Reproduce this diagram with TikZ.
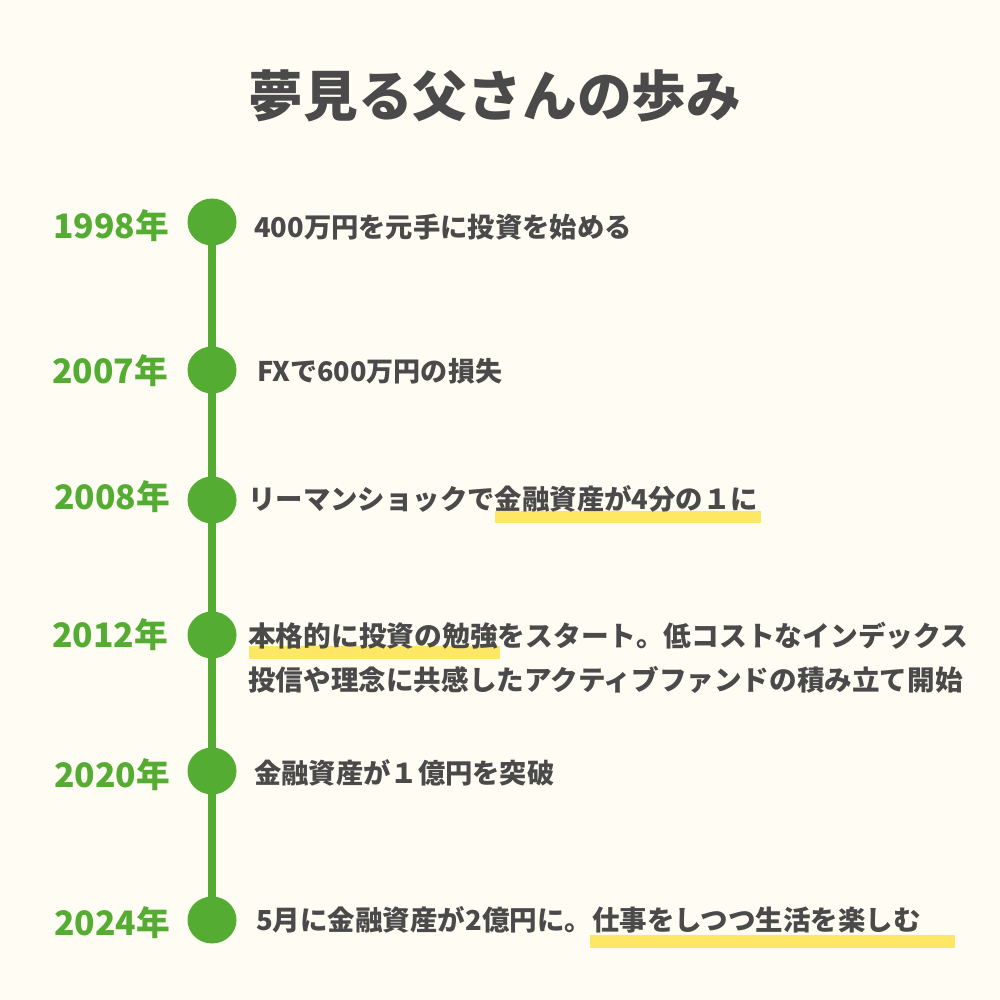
\documentclass[tikz,border=0pt]{standalone}
\usepackage{fontspec}
\setmainfont{Noto Sans CJK JP}
\usetikzlibrary{shapes.geometric}
\definecolor{paper}{HTML}{FFFDF3}
\definecolor{leaf}{HTML}{55AC33}
\definecolor{marker}{HTML}{FFE766}
\definecolor{ink}{HTML}{4A4A4A}
\tikzset{
  dot/.style={ellipse,fill=leaf,minimum width=49pt,minimum height=47pt,inner sep=0pt,outer sep=0pt},
  year/.style={anchor=west,inner sep=0pt,text=leaf,font=\fontsize{33.7}{40}\selectfont\bfseries},
  event/.style={anchor=west,inner sep=0pt,text=ink,font=\fontsize{#1}{34}\selectfont\bfseries},
  event/.default=27.3,
  hilite/.style={fill=marker}
}
\begin{document}
\begin{tikzpicture}[x=1pt,y=-1pt]
        \useasboundingbox (0,0) rectangle (1000,1000);
        \fill[paper] (0,0) rectangle (1000,1000);
        \fill[hilite] (495,511) rectangle (761,523);
        \fill[hilite] (248.5,646) rectangle (500,658.5);
        \fill[hilite] (590,935) rectangle (954.5,948);
        \node[dot](d1) at (212,222){};
        \node[dot](d2) at (212,370){};
        \node[dot](d3) at (212,500){};
        \node[dot](d4) at (212,635){};
        \node[dot](d5) at (212,771){};
        \node[dot](d6) at (212,920){};
        \draw[leaf,line width=8pt](d1.center)--(d2.center);
        \draw[leaf,line width=8pt](d2.center)--(d3.center);
        \draw[leaf,line width=8pt](d3.center)--(d4.center);
        \draw[leaf,line width=8pt](d4.center)--(d5.center);
        \draw[leaf,line width=8pt](d5.center)--(d6.center);
        \node[anchor=center,inner sep=0pt,text=ink,font=\fontsize{54.7}{60}\selectfont\bfseries](title) at (495,96){夢見る父さんの歩み};
        \node[year](y1) at (53,226){1998年};
        \node[year](y2) at (52,371){2007年};
        \node[year](y3) at (54,497){2008年};
        \node[year](y4) at (52,635){2012年};
        \node[year](y5) at (54,775){2020年};
        \node[year](y6) at (54,923){2024年};
        \node[event](e1) at (254,227){400万円を元手に投資を始める};
        \node[event=27.05](e2) at (257,371){FXで600万円の損失};
        \node[event=27.4](e3) at (248,499){リーマンショックで金融資産が4分の１に};
        \node[event=27.75](e4a) at (248,636){本格的に投資の勉強をスタート。低コストなインデックス};
        \node[event=27.6](e4b) at (248,680){投信や理念に共感したアクティブファンドの積み立て開始};
        \node[event](e5) at (254,773){金融資産が１億円を突破};
        \node[event=27.5](e6) at (256,920){5月に金融資産が2億円に。仕事をしつつ生活を楽しむ};
    \end{tikzpicture}
\end{document}
